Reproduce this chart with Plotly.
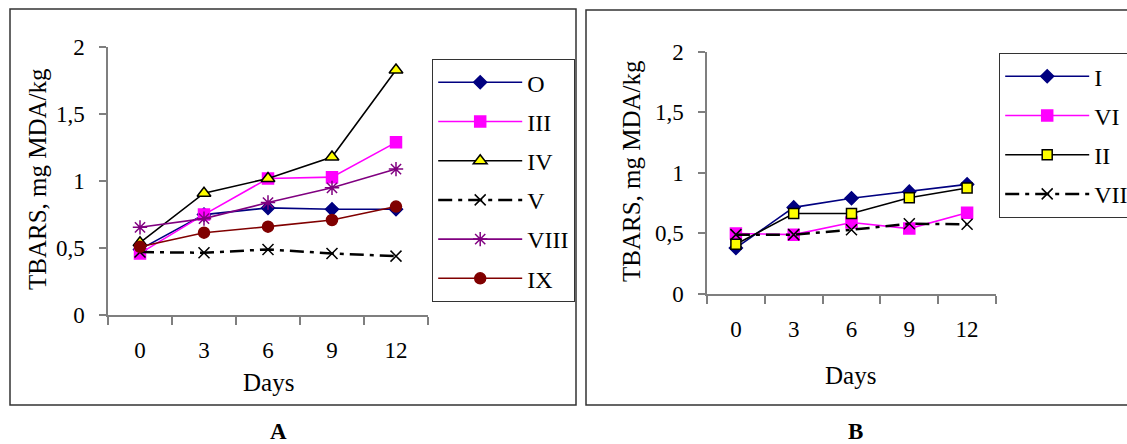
import plotly.graph_objects as go

days = ["0", "3", "6", "9", "12"]

# Panel A
a_O = [0.49, 0.75, 0.80, 0.79, 0.79]
a_III = [0.46, 0.75, 1.02, 1.03, 1.29]
a_IV = [0.54, 0.91, 1.02, 1.18, 1.83]
a_V = [0.47, 0.465, 0.49, 0.46, 0.44]
a_VIII = [0.655, 0.72, 0.84, 0.95, 1.09]
a_IX = [0.51, 0.615, 0.66, 0.71, 0.81]

# Panel B
b_I = [0.38, 0.715, 0.79, 0.845, 0.905]
b_VI = [0.50, 0.49, 0.59, 0.54, 0.67]
b_II = [0.41, 0.665, 0.665, 0.795, 0.875]
b_VII = [0.49, 0.49, 0.53, 0.58, 0.575]

yticks = [0, 0.5, 1, 1.5, 2]
ytick_text = ["0", "0,5", "1", "1,5", "2"]

FONT = "Liberation Serif"
W, H = 1127, 444
DASHDOT = "14px,6px,4px,6px"

fig = go.Figure()

def add(x, y, name, color, symbol, msize, mcolor, mline, dash, xa, ya, leg, lw=1.6):
    fig.add_trace(go.Scatter(
        x=x, y=y, name=name, mode="lines+markers",
        line=dict(color=color, width=lw, dash=dash),
        marker=dict(symbol=symbol, size=msize, color=mcolor,
                    line=dict(color=mline, width=1.5)),
        xaxis=xa, yaxis=ya, legend=leg, legendgroup=name + leg,
    ))

add(days, a_O, "O", "#000080", "diamond", 10, "#000080", "#000080", "solid", "x", "y", "legend")
add(days, a_III, "III", "#FF00FF", "square", 11, "#FF00FF", "#FF00FF", "solid", "x", "y", "legend")
add(days, a_IV, "IV", "#000000", "triangle-up", 12, "#FFFF00", "#000000", "solid", "x", "y", "legend")
add(days, a_V, "V", "#000000", "x-thin-open", 11, "#000000", "#000000", DASHDOT, "x", "y", "legend", lw=2.5)
add(days, a_VIII, "VIII", "#800080", "asterisk-open", 12, "#800080", "#800080", "solid", "x", "y", "legend")
add(days, a_IX, "IX", "#800000", "circle", 11, "#800000", "#800000", "solid", "x", "y", "legend")

add(days, b_I, "I", "#000080", "diamond", 10, "#000080", "#000080", "solid", "x2", "y2", "legend2")
add(days, b_VI, "VI", "#FF00FF", "square", 11, "#FF00FF", "#FF00FF", "solid", "x2", "y2", "legend2")
add(days, b_II, "II", "#000000", "square", 10, "#FFFF00", "#000000", "solid", "x2", "y2", "legend2")
add(days, b_VII, "VII", "#000000", "x-thin-open", 11, "#000000", "#000000", DASHDOT, "x2", "y2", "legend2", lw=2.5)

axis_col = "#7f7f7f"
xcommon = dict(type="category", range=[-0.5, 4.5], tickson="boundaries",
               ticks="outside", ticklen=8, tickcolor=axis_col, tickwidth=1.5,
               showline=True, linecolor=axis_col, linewidth=1.5, showgrid=False,
               zeroline=False, tickfont=dict(family=FONT, size=23, color="black"),
               ticklabelstandoff=14)
ycommon = dict(range=[0, 2], tickvals=yticks, ticktext=ytick_text,
               ticks="outside", ticklen=7, tickcolor=axis_col, tickwidth=1.5,
               showline=True, linecolor=axis_col, linewidth=1.5, showgrid=False,
               zeroline=False, tickfont=dict(family=FONT, size=23, color="black"),
               ticklabelstandoff=10)

legcommon = dict(xanchor="left", yanchor="top",
                 bordercolor="#333333", borderwidth=1.2, bgcolor="white",
                 font=dict(family=FONT, size=24, color="black"),
                 tracegroupgap=5, itemwidth=84)

fig.update_layout(
    width=W, height=H,
    margin=dict(l=0, r=0, t=0, b=0, autoexpand=False),
    paper_bgcolor="white", plot_bgcolor="white",
    font=dict(family=FONT, size=23, color="black"),
    xaxis=dict(domain=[108 / W, 428 / W], anchor="y", **xcommon),
    yaxis=dict(domain=[1 - 315 / H, 1 - 47.3 / H], anchor="x", **ycommon),
    xaxis2=dict(domain=[707 / W, 996 / W], anchor="y2", **xcommon),
    yaxis2=dict(domain=[1 - 294 / H, 1 - 51.7 / H], anchor="x2", **ycommon),
    legend=dict(x=432 / W, y=1 - 59 / H, **legcommon),
    legend2=dict(x=999 / W, y=1 - 53 / H, **legcommon),
    showlegend=True,
)

# Outer panel frames
fig.add_shape(type="rect", xref="paper", yref="paper",
              x0=10 / W, x1=576 / W, y0=1 - 405 / H, y1=1 - 9 / H,
              line=dict(color="#333333", width=1.5))
fig.add_shape(type="rect", xref="paper", yref="paper",
              x0=586 / W, x1=1.05, y0=1 - 405 / H, y1=1 - 10 / H,
              line=dict(color="#333333", width=1.5))

def ann(text, x, y, angle=0, bold=False, size=22, yanchor="middle"):
    fig.add_annotation(text=f"<b>{text}</b>" if bold else text,
                       xref="paper", yref="paper", x=x / W, y=1 - y / H,
                       showarrow=False, textangle=angle,
                       font=dict(family=FONT, size=size, color="black"),
                       xanchor="center", yanchor=yanchor)

ann("TBARS, mg MDA/kg", 37, 179, angle=-90, size=25)
ann("TBARS, mg MDA/kg", 632, 171, angle=-90, size=25)
ann("Days", 268, 382, size=25)
ann("Days", 850, 375, size=25)
ann("A", 278, 446, bold=True, size=23, yanchor="bottom")
ann("B", 855, 446, bold=True, size=23, yanchor="bottom")

fig.write_html("out.html", config={"displayModeBar": False},
               post_script="document.body.style.margin='0px';")
